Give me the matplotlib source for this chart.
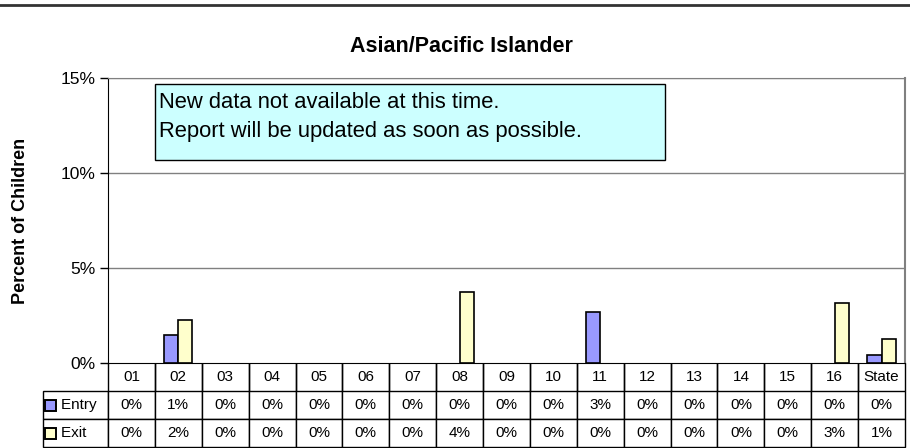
import matplotlib.pyplot as plt
from matplotlib.patches import Rectangle
from matplotlib.lines import Line2D
import numpy as np

plt.rcParams["font.family"] = ["Liberation Sans", "DejaVu Sans"]

categories = ["01", "02", "03", "04", "05", "06", "07", "08", "09", "10",
              "11", "12", "13", "14", "15", "16", "State"]
entry_values = [0, 1.47, 0, 0, 0, 0, 0, 0, 0, 0, 2.68, 0, 0, 0, 0, 0, 0.42]
exit_values = [0, 2.26, 0, 0, 0, 0, 0, 3.74, 0, 0, 0, 0, 0, 0, 0, 3.16, 1.26]
entry_labels = ["0%", "1%", "0%", "0%", "0%", "0%", "0%", "0%", "0%", "0%",
                "3%", "0%", "0%", "0%", "0%", "0%", "0%"]
exit_labels = ["0%", "2%", "0%", "0%", "0%", "0%", "0%", "4%", "0%", "0%",
               "0%", "0%", "0%", "0%", "0%", "3%", "1%"]
y_ticks = [0, 5, 10, 15]

W, H = 910, 448
fig = plt.figure(figsize=(W / 100, H / 100), dpi=100)

# plot area in pixels
left, right, top, bottom = 108, 905, 78, 363
ax = fig.add_axes([left / W, 1 - bottom / H, (right - left) / W, (bottom - top) / H])

x = np.arange(len(categories))
bw = 0.3
# zero bars get no outline so they don't show up as flat lines
ax.bar(x - bw / 2, entry_values, bw, color="#9999FF", edgecolor="black",
       linewidth=[1.2 if v > 0 else 0 for v in entry_values], zorder=3)
ax.bar(x + bw / 2, exit_values, bw, color="#FFFFCC", edgecolor="black",
       linewidth=[1.2 if v > 0 else 0 for v in exit_values], zorder=3)

ax.set_xlim(-0.5, len(categories) - 0.5)
ax.set_ylim(0, 15)
ax.set_yticks(y_ticks)
ax.set_yticklabels([f"{t}%" for t in y_ticks], fontsize=12.5)
ax.set_xticks([])
ax.tick_params(axis="y", length=6, width=1, pad=3)
for t in y_ticks[1:]:
    ax.axhline(t, color="#808080", linewidth=1, zorder=1)
ax.spines["left"].set_color("black")
ax.spines["bottom"].set_color("black")
ax.spines["top"].set_color("#808080")
ax.spines["right"].set_color("#808080")
ax.spines["right"].set_linewidth(1.5)

fig.text(21 / W, 1 - (bottom + top) / 2 / H, "Percent of Children", fontsize=13,
         fontweight="bold", rotation=90, ha="center", va="center")
fig.text(461 / W, 1 - 47 / H, "Asian/Pacific Islander", fontsize=15.5,
         fontweight="bold", ha="center", va="center")

# top rule
fig.add_artist(Line2D([0, 1], [1 - 5 / H, 1 - 5 / H], color="#333333", linewidth=2))

# notice box
fig.patches.append(Rectangle((155 / W, 1 - 160 / H), 510 / W, 76 / H,
                             transform=fig.transFigure, facecolor="#CCFFFF",
                             edgecolor="black", linewidth=1, zorder=5))
fig.text(159 / W, 1 - 103 / H, "New data not available at this time.",
         fontsize=15.8, va="center", zorder=6)
fig.text(159 / W, 1 - 131 / H, "Report will be updated as soon as possible.",
         fontsize=15.8, va="center", zorder=6)

# data table below the axis
row_h = 28
tab_left = 43
col_w = (right - left) / len(categories)
rows = [[""] + categories, ["    Entry"] + entry_labels, ["    Exit"] + exit_labels]
tbl = ax.table(cellText=rows,
               colWidths=[left - tab_left] + [col_w] * len(categories),
               bbox=[(tab_left - left) / (right - left), -3 * row_h / (bottom - top),
                     (right - tab_left) / (right - left), 3 * row_h / (bottom - top)],
               cellLoc="center")
tbl.auto_set_font_size(False)
tbl.set_fontsize(11)
for (r, c), cell in tbl.get_celld().items():
    cell.set_linewidth(1)
    if r == 0 and c == 0:
        cell.visible_edges = ""
    elif r == 0:
        cell.visible_edges = "LR"
    if c == 0 and r > 0:
        cell.get_text().set_ha("left")
        cell.PAD = 0.02

# legend keys in the row labels
for i, col in enumerate(["#9999FF", "#FFFFCC"]):
    yc = bottom + row_h * (i + 1.5)
    fig.patches.append(Rectangle((45 / W, 1 - (yc + 6) / H), 11 / W, 11 / H,
                                 transform=fig.transFigure, facecolor=col,
                                 edgecolor="black", linewidth=1.4, zorder=10))

fig.savefig("out.png", dpi=100)
